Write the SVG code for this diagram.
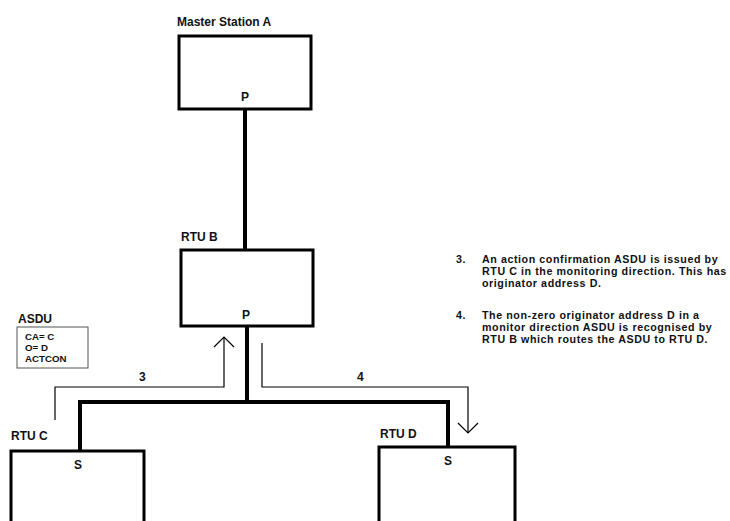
<svg xmlns="http://www.w3.org/2000/svg" width="730" height="521" viewBox="0 0 730 521">
  <defs>
    <style>
      .box { fill: #ffffff; stroke: #000000; stroke-width: 3; }
      .bus { fill: none; stroke: #000000; stroke-width: 4; stroke-linecap: square; }
      .flow { fill: none; stroke: #000000; stroke-width: 1.2; }
      .lbl { font-family: "Liberation Sans", Arial, sans-serif; font-weight: bold; font-size: 12px; fill: #111111; }
      .note { font-family: "Liberation Sans", Arial, sans-serif; font-weight: bold; font-size: 10.7px; letter-spacing: 0.57px; fill: #111111; }
      .small { font-family: "Liberation Sans", Arial, sans-serif; font-weight: bold; font-size: 9.7px; fill: #111111; }
      .asdu { fill: #ffffff; stroke: #555555; stroke-width: 1; }
    </style>
  </defs>
  <rect width="730" height="521" fill="#ffffff"/>

  <!-- links between stations -->
  <g id="connectors">
    <line class="bus" x1="245" y1="110" x2="245" y2="249"/>
    <line class="bus" x1="247" y1="327" x2="247" y2="402"/>
    <polyline class="bus" points="80,451 80,402 448,402 448,447"/>
    <!-- step 3: RTU C up to RTU B -->
    <polyline class="flow" points="55,420 55,387 224,387 224,338"/>
    <polyline class="flow" points="214,347 224,337 234,347"/>
    <text class="lbl" x="139" y="381">3</text>
    <!-- step 4: RTU B down to RTU D -->
    <polyline class="flow" points="262,343 262,387 468,387 468,432"/>
    <polyline class="flow" points="458,423 468,433 478,423"/>
    <text class="lbl" x="357" y="381">4</text>
  </g>

  <g id="master-a">
    <text class="lbl" x="177" y="26">Master Station A</text>
    <rect class="box" x="179" y="36" width="132" height="73"/>
    <text class="lbl" x="241" y="101">P</text>
  </g>

  <g id="rtu-b">
    <text class="lbl" x="181" y="241">RTU B</text>
    <rect class="box" x="181" y="250" width="132" height="76"/>
    <text class="lbl" x="242" y="319">P</text>
  </g>

  <g id="rtu-c">
    <text class="lbl" x="11" y="440">RTU C</text>
    <path class="box" d="M11,530 V451 H144 V530"/>
    <text class="lbl" x="74" y="469">S</text>
  </g>

  <g id="rtu-d">
    <text class="lbl" x="380" y="438">RTU D</text>
    <path class="box" d="M379,530 V447 H515 V530"/>
    <text class="lbl" x="444" y="465">S</text>
  </g>

  <g id="asdu">
    <text class="lbl" x="18" y="323">ASDU</text>
    <rect class="asdu" x="17" y="327" width="71" height="41"/>
    <text class="small" x="25" y="340">CA= C</text>
    <text class="small" x="25" y="351">O= D</text>
    <text class="small" x="25" y="362">ACTCON</text>
  </g>

  <g id="notes">
    <text class="note" x="456" y="263">3.</text>
    <text class="note" x="482" y="263">An action confirmation ASDU is issued by</text>
    <text class="note" x="482" y="275">RTU C in the monitoring direction. This has</text>
    <text class="note" x="482" y="287">originator address D.</text>
    <text class="note" x="456" y="319">4.</text>
    <text class="note" x="482" y="319">The non-zero originator address D in a</text>
    <text class="note" x="482" y="331">monitor direction ASDU is recognised by</text>
    <text class="note" x="482" y="343">RTU B which routes the ASDU to RTU D.</text>
  </g>
</svg>
